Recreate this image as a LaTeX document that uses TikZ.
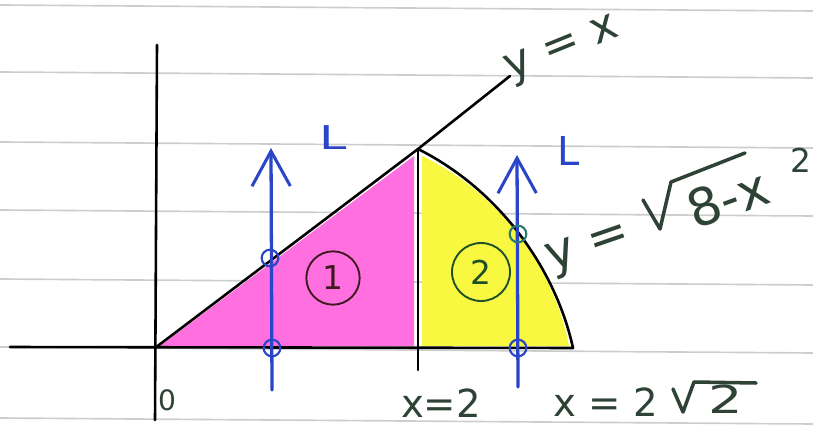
\documentclass[tikz,border=0pt]{standalone}
\usepackage{fontspec}
\setmainfont{DejaVu Sans}
\usetikzlibrary{arrows.meta}
\definecolor{ink}{HTML}{2E4236}
\definecolor{pen}{HTML}{2A45C8}
\definecolor{penteal}{HTML}{2C7A70}
\definecolor{pinkfill}{HTML}{FF6FE0}
\definecolor{yelfill}{HTML}{F8F840}
\definecolor{ruleline}{HTML}{CDCDCD}
\definecolor{oneink}{HTML}{3E1A1E}
\definecolor{twoink}{HTML}{1F4F2A}
\begin{document}
\begin{tikzpicture}[x=0.03cm,y=-0.03cm,line cap=round,line join=round,
  paperline/.style={line width=1.4pt,ruleline},
  blackline/.style={line width=2.2pt,black},
  inkline/.style={line width=3pt,ink},
  penarrow/.style={line width=2.8pt,pen,-{Straight Barb[length=1.05cm,width=1.15cm,line width=2.6pt]}},
  ptcirc/.style={circle,draw=pen,line width=1.8pt,minimum size=0.5cm,inner sep=0pt},
  ptcircg/.style={ptcirc,draw=penteal},
  regionlabel/.style={circle,draw,line width=1.6pt,inner sep=0pt,font=\fontsize{28}{30}\selectfont},
  handtext/.style={ink,inner sep=0pt,font=\fontsize{40}{44}\selectfont},
  Llabel/.style={pen,inner sep=0pt,font=\fontsize{34}{38}\selectfont}]
\useasboundingbox (0,0) rectangle (813,425);
% ruled paper
\foreach \yy in {5,72,142,210,279,347,418}
  \draw[paperline] (0,\yy) -- (813,\yy+6);
% named points
\coordinate (O) at (155,348);
\coordinate (T) at (418,149);
\coordinate (B) at (418,348);
\coordinate (E) at (573,348);
\coordinate (Yend) at (510,76);
\coordinate (Xl) at (10,347);
\coordinate (Yt) at (157,45);
\coordinate (Yb) at (155,420);
\coordinate (Tb) at (418,370);
% highlighter fills
\fill[pinkfill] (160,346) -- (414,156) -- (414,346) -- cycle;
\fill[yelfill] (422,156) .. controls (502,194) and (555,272) .. (569,346) -- (422,346) -- cycle;
% axes and curves
\draw[blackline] (Xl) -- (E);
\draw[blackline] (Yt) -- (Yb);
\draw[blackline] (O) -- (T) -- (Yend);
\draw[blackline] (T) -- (Tb);
\draw[blackline] (T) .. controls (500,190) and (556,270) .. (E);
% region labels
\node[regionlabel,draw=oneink,text=oneink,minimum size=1.6cm] (r1) at (333,278) {1};
\node[regionlabel,draw=twoink,text=twoink,minimum size=1.74cm] (r2) at (481,272) {2};
% vertical strips
\coordinate (a1s) at (272,390);
\coordinate (a1e) at (271,148);
\coordinate (a2s) at (518,387);
\coordinate (a2e) at (517,155);
\draw[penarrow] (a1s) -- (a1e);
\draw[penarrow] (a2s) -- (a2e);
\node[ptcirc] (p1a) at (270,258) {};
\node[ptcirc] (p1b) at (272,348) {};
\node[ptcircg] (p2a) at (518,234) {};
\node[ptcirc] (p2b) at (518,348) {};
\node[Llabel,xscale=1.5,font=\fontsize{28}{30}\selectfont] (L1) at (333,138) {L};
\node[Llabel] (L2) at (569,151) {L};
% y = x
\node[handtext,rotate=22,font=\fontsize{38}{40}\selectfont] (lx) at (563,51) {y = x};
% y = sqrt(8 - x^2)
\node[handtext,rotate=19,font=\fontsize{42}{44}\selectfont] (ly) at (589,250) {y =};
\coordinate (r1a) at (643,200);
\coordinate (r1b) at (660,229);
\coordinate (r1c) at (671,182);
\coordinate (r1d) at (745,153);
\draw[inkline] (r1a) -- (r1b) -- (r1c) -- (r1d);
\node[handtext,rotate=20,font=\fontsize{44}{46}\selectfont] (l8) at (728,198) {8-x};
\node[handtext,font=\fontsize{28}{30}\selectfont] (lsq) at (801,160) {2};
% bottom labels
\node[handtext,anchor=base,font=\fontsize{33}{35}\selectfont] (x2) at (441,417) {x=2};
\node[handtext,anchor=base,font=\fontsize{33}{35}\selectfont] (x22) at (606,416) {x = 2};
\coordinate (r2a) at (673,389);
\coordinate (r2b) at (683,412);
\coordinate (r2c) at (694,382);
\coordinate (r2d) at (756,383);
\draw[inkline] (r2a) -- (r2b) -- (r2c) -- (r2d);
\node[handtext,anchor=base,xscale=1.4,font=\fontsize{33}{35}\selectfont] (x22b) at (726,413) {2};
\node[handtext,anchor=base,font=\fontsize{24}{26}\selectfont] (zero) at (167,410) {0};
\end{tikzpicture}
\end{document}
